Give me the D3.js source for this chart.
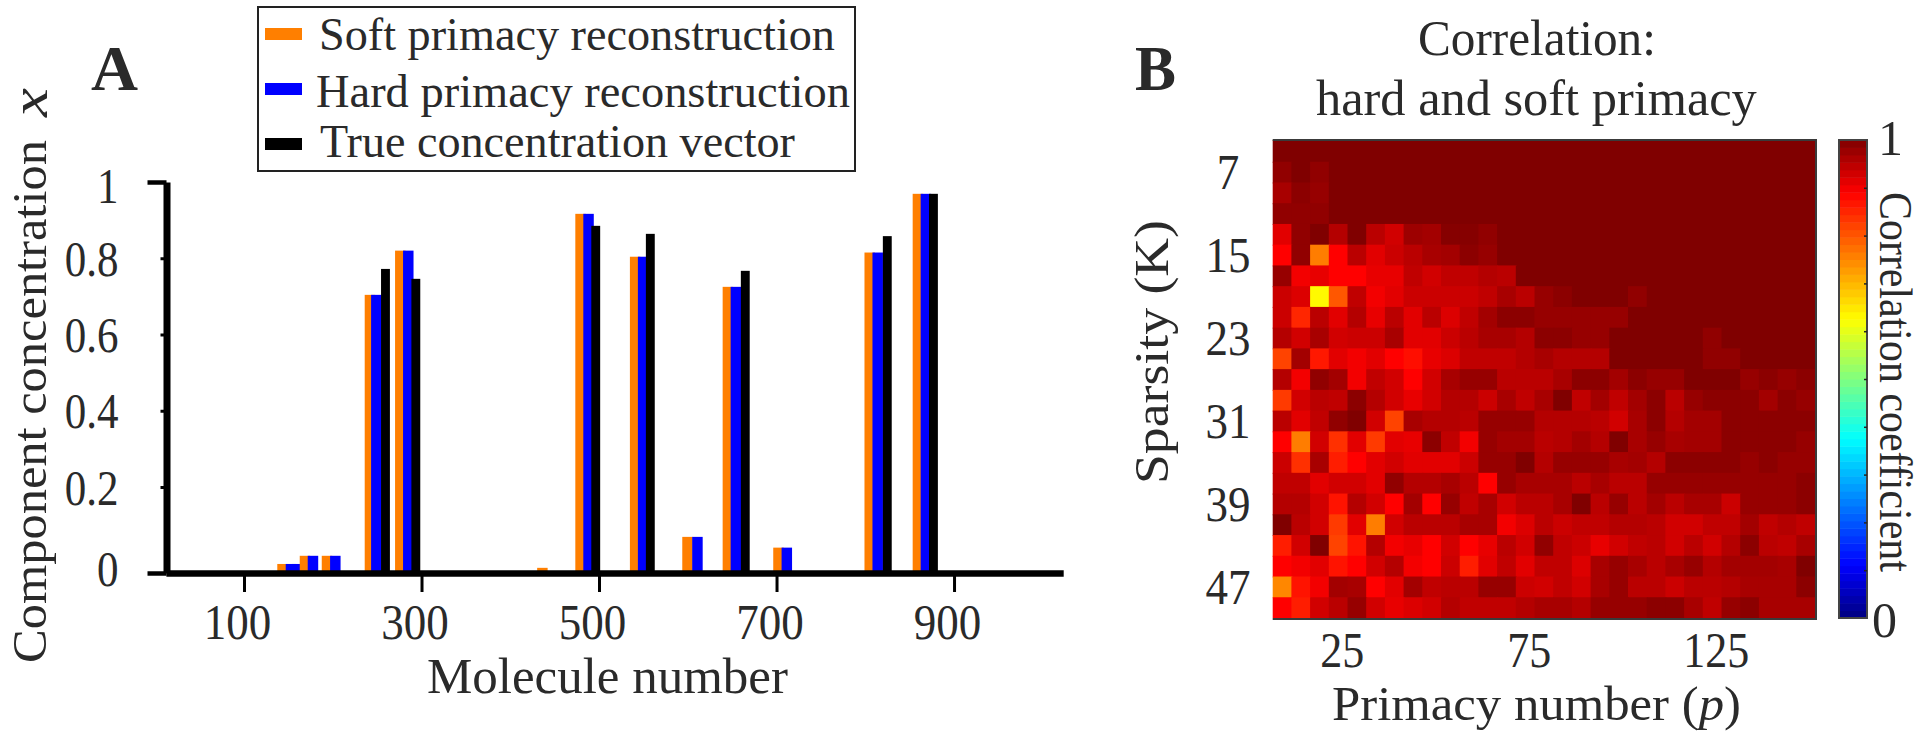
<!DOCTYPE html>
<html><head><meta charset="utf-8">
<script src="https://cdnjs.cloudflare.com/ajax/libs/d3/7.9.0/d3.min.js"></script>
<style>html,body{margin:0;background:#fff}svg{display:block}text{font-family:"Liberation Serif",serif;fill:#2a2a2a}</style>
</head><body><svg id="c" width="1920" height="738"></svg>
<script>
// ---- Panel A data ----
const softMolecules=[137.5,162.8,187.6,236,270.2,430.3,473.3,534.8,593.8,639.3,696.3,799.1,853.4];
const softValues=[.021,.04,.04,.704,.82,.012,.9165,.804,.084,.725,.059,.815,.969];
const hardMolecules=[147,154,171.8,197,243.2,279.2,482.3,543.8,605,648.3,705.7,808.1,862.4];
const hardValues=[.021,.021,.04,.04,.704,.82,.9165,.804,.084,.725,.059,.815,.969];
const trueMolecules=[254.4,288.6,491.3,552.8,659.8,819.8,871.8];
const trueValues=[.772,.746,.885,.864,.767,.858,.969];
const seriesNames=["Soft primacy reconstruction","Hard primacy reconstruction","True concentration vector"];
const seriesColors=["#ff7f00","#0000ff","#000000"];
const yTicksA=[0,.2,.4,.6,.8,1];
const xTicksA=[100,300,500,700,900];
// ---- Panel B data ----
const primacy=[10,15,20,25,30,35,40,45,50,55,60,65,70,75,80,85,90,95,100,105,110,115,120,125,130,135,140,145,150];
const sparsity=[5,7,9,11,13,15,17,19,21,23,25,27,29,31,33,35,37,39,41,43,45,47,49];
const xTicksB=[25,75,125];
const yTicksB=[7,15,23,31,39,47];
const correlation=[
[1,1,1,1,1,1,1,1,1,1,1,1,1,1,1,1,1,1,1,1,1,1,1,1,1,1,1,1,1],
[.985,1,.985,1,1,1,1,1,1,1,1,1,1,1,1,1,1,1,1,1,1,1,1,1,1,1,1,1,1],
[.965,.99,.98,1,1,1,1,1,1,1,1,1,1,1,1,1,1,1,1,1,1,1,1,1,1,1,1,1,1],
[.985,.985,.985,1,1,1,1,1,1,1,1,1,1,1,1,1,1,1,1,1,1,1,1,1,1,1,1,1,1],
[.915,.985,1,.955,1,.95,.93,.975,.97,.995,.995,.985,1,1,1,1,1,1,1,1,1,1,1,1,1,1,1,1,1],
[.89,.985,.76,.89,.95,.915,.935,.95,.965,.97,.99,.98,1,1,1,1,1,1,1,1,1,1,1,1,1,1,1,1,1],
[.98,.9,.91,.89,.89,.91,.91,.945,.93,.945,.945,.955,.95,1,1,1,1,1,1,1,1,1,1,1,1,1,1,1,1],
[.935,.92,.63,.8,.945,.9,.915,.935,.935,.935,.935,.945,.965,.95,.98,.99,1,1,1,.985,1,1,1,1,1,1,1,1,1],
[.935,.85,.95,.915,.955,.91,.95,.915,.95,.92,.945,.97,.99,.99,.98,.98,.98,.98,.98,1,1,1,1,1,1,1,1,1,1],
[.955,.93,.965,.93,.935,.935,.965,.915,.915,.935,.95,.965,.965,.955,.99,.99,.98,.98,1,1,1,1,1,.985,1,1,1,1,1],
[.82,.97,.865,.915,.9,.915,.89,.875,.91,.92,.945,.945,.945,.955,.965,.955,.955,.955,1,1,1,1,1,.985,.985,1,1,1,1],
[.955,.9,.985,.97,.9,.945,.93,.89,.93,.965,.98,.98,.95,.95,.95,.965,.99,.99,.97,.99,.98,.98,1,1,1,.98,.99,.98,.99],
[.83,.93,.95,.945,.99,.955,.93,.91,.93,.955,.955,.935,.965,.945,.965,1,.945,.97,.945,.97,.99,.95,.98,.99,.99,.99,.97,.99,.98],
[.95,.915,.945,.985,1,.93,.82,.965,.955,.955,.95,.98,.98,.98,.955,.955,.955,.95,.93,.965,.99,.955,.97,.97,.99,.99,.99,.99,.99],
[.89,.76,.93,.84,.915,.83,.915,.91,.99,.945,.9,.98,.97,.97,.95,.955,.97,.955,1,.965,.98,.965,.97,.97,.99,.99,.99,.99,.98],
[.935,.84,.965,.86,.89,.915,.93,.915,.915,.915,.935,.98,.98,1,.955,.98,.98,.98,.965,.97,.955,.99,.99,.99,.99,.98,.99,.98,.98],
[.945,.945,.915,.93,.93,.915,.985,.955,.955,.965,.95,.89,.98,.965,.965,.965,.95,.965,.95,.95,.98,.98,.98,.98,.98,.98,.98,.98,.99],
[.955,.955,.93,.87,.955,.93,.89,.97,.89,.98,.945,.965,.93,.95,.95,.965,1,.95,.98,.95,.97,.95,.965,.965,.935,.98,.98,.98,.99],
[1,.95,.93,.83,.915,.76,.93,.95,.95,.95,.965,.965,.9,.92,.95,.935,.945,.945,.955,.955,.95,.93,.93,.945,.945,.97,.945,.955,.945],
[.86,.93,1,.82,.87,.955,.9,.91,.89,.93,.89,.91,.95,.93,.985,.945,.935,.91,.93,.945,.95,.93,.95,.93,.955,.99,.95,.945,.965],
[.89,.9,.915,.87,.89,.93,.955,.9,.89,.935,.86,.915,.945,.915,.945,.945,.92,.965,.98,.965,.95,.965,.98,.955,.97,.97,.97,.965,1],
[.75,.87,.9,.97,.965,.89,.915,.97,.945,.95,.95,.98,.98,.935,.93,.945,.93,.965,.98,.95,.95,.935,.95,.95,.955,.965,.965,.965,.99],
[.89,.86,.93,.95,.98,.93,.91,.92,.93,.955,.945,.945,.945,.955,.965,.965,.955,.98,.98,.98,.99,.99,.965,.945,.98,.99,.965,.965,.965]
];
const colorStops=[0,.11,.375,.625,.89,1];
const colorValues=["#000080","#0000ff","#00ffff","#ffff00","#ff0000","#800000"];

const svg=d3.select("#c");
function label(text,x,y,size,width,opt={}){
  const g=svg.append("g").attr("transform",`translate(${x},${y}) rotate(${opt.rotate||0})`);
  const t=g.append("text").attr("font-size",size).attr("text-anchor",opt.anchor||"start")
    .attr("font-weight",opt.bold?"bold":null).attr("font-style",opt.italic?"italic":null);
  (Array.isArray(text)?text:[[text,false]]).forEach(([s,it])=>t.append("tspan").attr("font-style",it?"italic":null).text(s));
  if(width) t.attr("transform",`scale(${width/t.node().getComputedTextLength()},1)`);
  return t;
}
// ===== Panel A =====
const xA=d3.scaleLinear().domain([12,1023]).range([165.9,1063.2]);
const yA=d3.scaleLinear().domain([0,.2,1]).range([573,487,182]);
const barWidths=[11.8,11.8,10];
const bars=[];
[[softMolecules,softValues],[hardMolecules,hardValues],[trueMolecules,trueValues]].forEach(([m,v],s)=>
  m.forEach((d,i)=>bars.push({m:d,v:v[i],s})));
bars.sort((a,b)=>a.m-b.m);
svg.append("g").selectAll("rect").data(bars).join("rect")
  .attr("x",d=>xA(d.m)).attr("width",d=>xA(d.m+barWidths[d.s])-xA(d.m))
  .attr("y",d=>yA(d.v)).attr("height",d=>yA(0)-yA(d.v)).attr("fill",d=>seriesColors[d.s]);
const axY=svg.append("g").attr("transform","translate(166.5,0)")
  .call(d3.axisLeft(yA).tickValues(yTicksA).tickFormat(d=>d).tickSize(6).tickSizeOuter(0).tickPadding(0));
axY.select(".domain").attr("stroke","#000").attr("stroke-width",7);
axY.selectAll("line").attr("stroke","#000").attr("stroke-width",3);
axY.selectAll(".tick").filter(d=>d===0||d===1).select("line").attr("x2",-19).attr("stroke-width",4.5);
axY.selectAll("text").attr("font-size",50).attr("x",0).attr("text-anchor","end")
  .attr("dy",0).attr("y",d=>d===0?12:d===1?20:17)
  .attr("transform","translate(-48,0) scale(.86,1)");
const axX=svg.append("g").attr("transform","translate(0,573)")
  .call(d3.axisBottom(xA).tickValues(xTicksA).tickSize(19).tickSizeOuter(0).tickPadding(0));
axX.select(".domain").attr("stroke","#000").attr("stroke-width",6.5);
axX.selectAll("line").attr("stroke","#000").attr("stroke-width",3);
axX.selectAll("text").attr("font-size",50).attr("y",66).attr("dy",0).attr("x",0)
  .attr("transform","translate(-7,0) scale(.9,1)");
label("Molecule number",427,693,50,361);
label("Component concentration",46,663,48,523,{rotate:-90});
label("x",47,117,52,29,{rotate:-90,italic:true});
label("A",91,90,64,47,{bold:true});
// legend
svg.append("rect").attr("x",258).attr("y",7).attr("width",597).attr("height",164).attr("fill","#fff").attr("stroke","#222").attr("stroke-width",2);
const legendY=[34,89,144],legendX=[319,316,320],legendB=[50,107,157],legendW=[516,534,475];
seriesNames.forEach((n,i)=>{
  svg.append("rect").attr("x",265).attr("y",legendY[i]-6).attr("width",37).attr("height",12).attr("fill",seriesColors[i]);
  label(n,legendX[i],legendB[i],46,legendW[i]);
});
// ===== Panel B =====
const color=d3.scaleLinear().domain(colorStops).range(colorValues);
const xB=d3.scaleBand().domain(primacy).range([1272.7,1815]);
const yB=d3.scaleBand().domain(sparsity).range([141,618]);
correlation.forEach((row,r)=>row.forEach((v,c)=>{
  svg.append("rect").attr("x",xB(primacy[c])).attr("width",xB.bandwidth()+(c<28?1:0))
   .attr("y",yB(sparsity[r])-(r===0?1:0)).attr("height",yB.bandwidth()+(r<22?1:0)+(r===0?1:0)).attr("fill",color(v));
}));
svg.append("path").attr("d","M1272.7,140H1816V619H1272.7").attr("fill","none").attr("stroke","#3a3a3a").attr("stroke-width",2);
const axXB=svg.append("g").attr("transform","translate(0,618)").call(d3.axisBottom(xB).tickValues(xTicksB).tickSize(0));
axXB.select(".domain").remove();
axXB.selectAll("text").attr("font-size",50).attr("y",49).attr("dy",0).attr("x",0).attr("transform","translate(4,0) scale(.88,1)");
const axYB=svg.append("g").attr("transform","translate(1228,0)").call(d3.axisLeft(yB).tickValues(yTicksB).tickSize(0));
axYB.select(".domain").remove();
axYB.selectAll("text").attr("font-size",50).attr("x",0).attr("y",17).attr("dy",0).attr("text-anchor","middle").attr("transform","scale(.9,1)");
label([["Primacy number (",false],["p",true],[")",false]],1332,720,48,409);
label("Sparsity (K)",1168,484,48,264,{rotate:-90});
label("B",1135,90,64,41,{bold:true});
label("Correlation:",1418,55,50,238);
label("hard and soft primacy",1316,115,50,441);
// colorbar
const yC=d3.scaleLinear().domain([0,1]).range([618,140]);
const levels=d3.range(0,64).map(i=>i/64);
svg.append("g").selectAll("rect").data(levels).join("rect")
  .attr("x",1839).attr("width",28).attr("y",d=>yC(d+1/64)).attr("height",yC(0)-yC(1/64)+.5)
  .attr("fill",d=>color(d+1/128));
svg.append("rect").attr("x",1839).attr("y",140).attr("width",28).attr("height",478).attr("fill","none").attr("stroke","#444").attr("stroke-width",2);
svg.append("g").attr("transform","translate(1867,0)")
  .call(d3.axisRight(yC).tickValues(d3.range(1,10).map(d=>d/10)).tickSize(-3).tickFormat(""))
  .call(g=>g.select(".domain").remove()).selectAll("line").attr("stroke","#222").attr("stroke-width",1.5);
label("1",1878,155,50,null);
label("0",1872,637,50,null);
label("Correlation coefficient",1880,192,46,380,{rotate:90});
</script></body></html>
